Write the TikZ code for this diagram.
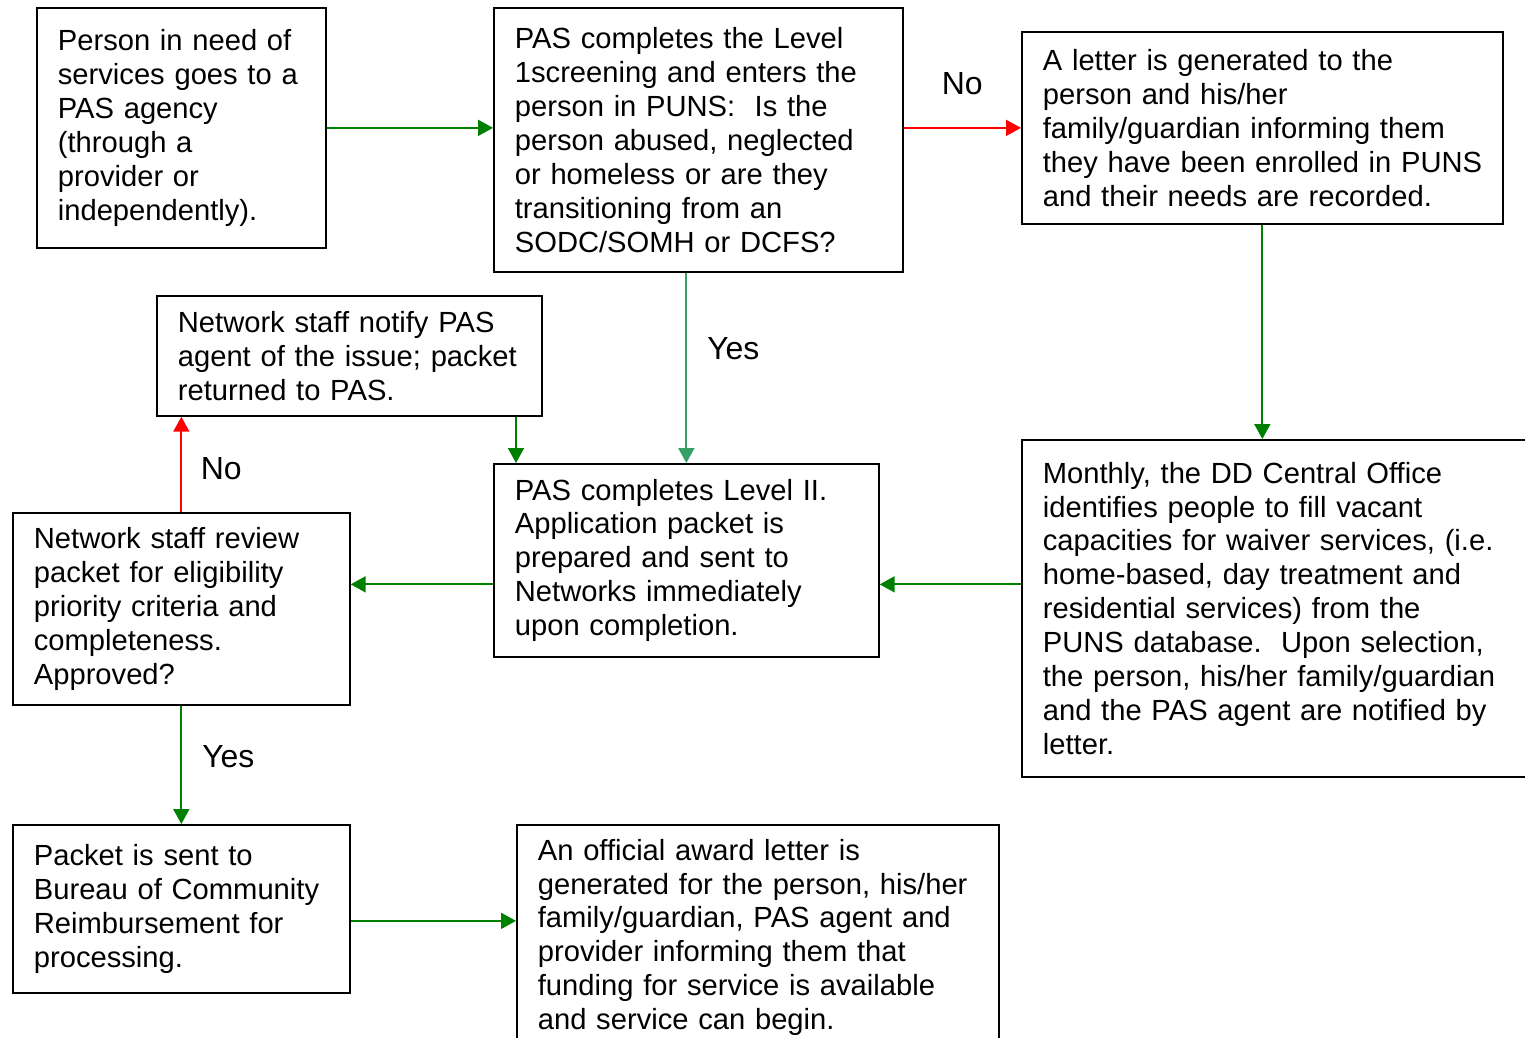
\documentclass[tikz,border=0pt]{standalone}
\usepackage{fontspec}
\setmainfont{Liberation Sans}
\usetikzlibrary{arrows.meta}
\definecolor{flowgreen}{RGB}{0,128,0}
\definecolor{yesgreen}{RGB}{55,160,100}
\newcommand{\boxfont}{\fontsize{16.6pt}{19.3pt}\selectfont\frenchspacing}
\newcommand{\lblfont}{\fontsize{18.2pt}{21pt}\selectfont}

\begin{document}
\begin{tikzpicture}[x=0.02cm,y=-0.02cm,
  box/.style={draw,line width=1pt,anchor=north west,align=left,inner xsep=0.42cm,inner ysep=0pt,font=\boxfont},
  flow/.style={line width=1.1pt,flowgreen,-{Triangle[length=0.3cm,width=0.32cm]}},
  lbl/.style={font=\lblfont,text=black}]
\useasboundingbox (0,0) rectangle (1525,1038);

\node[box,text width=4.94cm,minimum height=4.8cm] (need) at (36,7)
  {Person in need of\\services goes to a\\PAS agency\\(through a\\provider or\\independently).};
\node[box,text width=7.34cm,minimum height=5.28cm] (screen) at (493,7)
  {PAS completes the Level\\1screening and enters the\\person in PUNS:~ Is the\\person abused, neglected\\or homeless or are they\\transitioning from an\\SODC/SOMH or DCFS?};
\node[box,text width=8.78cm,minimum height=3.84cm] (letter) at (1021,31)
  {A letter is generated to the\\person and his/her\\family/guardian informing them\\\mbox{they have been enrolled in PUNS}\\and their needs are recorded.};
\node[box,text width=6.86cm,minimum height=2.4cm] (notify) at (156,295)
  {Network staff notify PAS\\agent of the issue; packet\\returned to PAS.};
\node[box,text width=6.86cm,minimum height=3.86cm] (level2) at (493,463)
  {PAS completes Level II.\\Application packet is\\prepared and sent to\\Networks immediately\\upon completion.};
\node[box,text width=9.56cm,minimum height=6.74cm] (monthly) at (1021,439)
  {Monthly, the DD Central Office\\identifies people to fill vacant\\capacities for waiver services, (i.e.\\home-based, day treatment and\\residential services) from the\\PUNS database.~ Upon selection,\\the person, his/her family/guardian\\and the PAS agent are notified by\\letter.};
\node[box,text width=5.9cm,minimum height=3.84cm] (review) at (12,512)
  {Network staff review\\packet for eligibility\\priority criteria and\\completeness.\\Approved?};
\node[box,text width=5.9cm,minimum height=3.36cm] (bureau) at (12,824)
  {Packet is sent to\\Bureau of Community\\Reimbursement for\\processing.};
\node[box,text width=8.8cm,minimum height=4.5cm] (award) at (516,824)
  {An official award letter is\\generated for the person, his/her\\family/guardian, PAS agent and\\provider informing them that\\funding for service is available\\and service can begin.};

% connectors
\draw[flow] (need.east) -- (need.east -| screen.west);
\draw[flow,red] (screen.east |- letter.west) -- (letter.west)
  node[lbl,midway,yshift=0.88cm] (no1) {No};
\draw[flow,yesgreen] (screen.south -| level2.north) -- (level2.north)
  node[lbl,midway,xshift=0.94cm,yshift=0.38cm] (yes1) {Yes};
\draw[flow] (letter.south) -- (letter.south |- monthly.north);
\draw[flow] ([yshift=-0.48cm]monthly.west |- level2.east) -- ([yshift=-0.48cm]level2.east);
\draw[flow] ([yshift=-0.48cm]level2.west) -- ([yshift=-0.48cm]level2.west -| review.east);
\draw[flow,red] (review.north) -- (review.north |- notify.south)
  node[lbl,midway,xshift=0.8cm,yshift=-0.09cm] (no2) {No};
\coordinate (into2) at ([xshift=0.46cm]level2.north west);
\draw[flow] (notify.south -| into2) -- (into2);
\draw[flow] (review.south) -- (bureau.north)
  node[lbl,midway,xshift=0.94cm,yshift=0.16cm] (yes2) {Yes};
\draw[flow] ([yshift=-0.24cm]bureau.east) -- ([yshift=-0.24cm]bureau.east -| award.west);

\end{tikzpicture}
\end{document}
